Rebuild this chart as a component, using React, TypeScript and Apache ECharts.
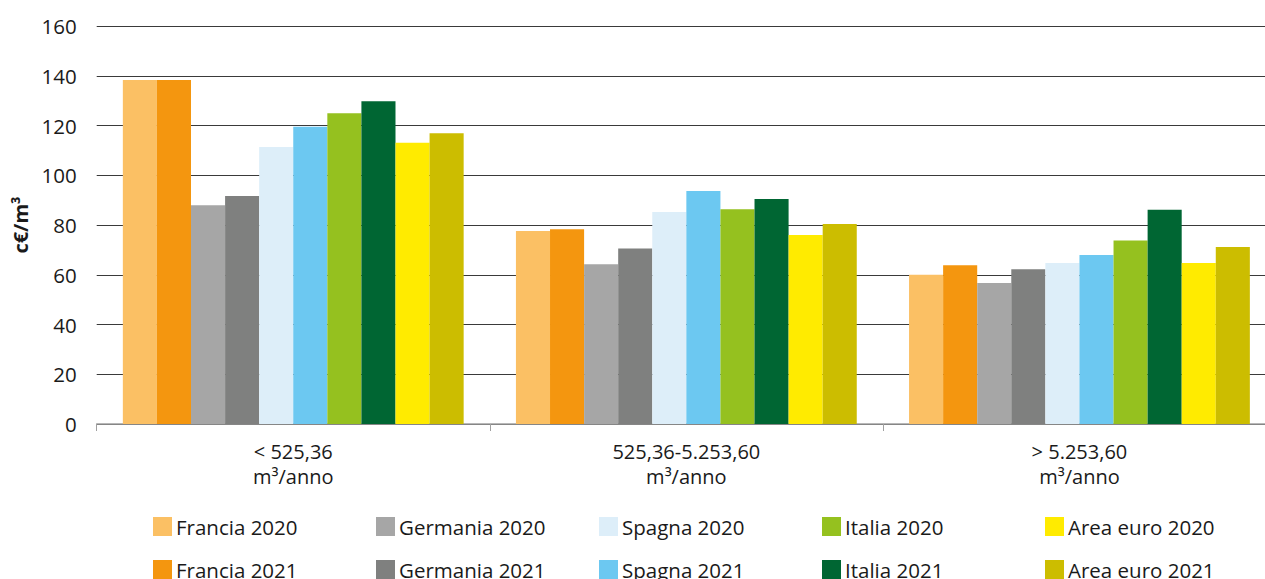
import React, { useEffect, useRef } from "react";
import * as echarts from "echarts";

const categories = ["< 525,36\nm³/anno", "525,36-5.253,60\nm³/anno", "> 5.253,60\nm³/anno"];
const yTicks = { min: 0, max: 160, interval: 20 };

const seriesNames = [
  "Francia 2020", "Francia 2021",
  "Germania 2020", "Germania 2021",
  "Spagna 2020", "Spagna 2021",
  "Italia 2020", "Italia 2021",
  "Area euro 2020", "Area euro 2021",
];
const seriesColors = [
  "#FBC064", "#F4960F",
  "#A6A6A6", "#7F807F",
  "#DDEEF9", "#6CC8F1",
  "#95C11F", "#006633",
  "#FFEB00", "#CCBD00",
];
const francia2020 = [138.3, 77.6, 60.0];
const francia2021 = [138.3, 78.3, 63.8];
const germania2020 = [87.9, 64.2, 56.7];
const germania2021 = [91.7, 70.6, 62.2];
const spagna2020 = [111.4, 85.2, 64.7];
const spagna2021 = [119.5, 93.7, 67.9];
const italia2020 = [124.9, 86.3, 73.8];
const italia2021 = [129.7, 90.5, 86.1];
const areaEuro2020 = [113.1, 76.0, 64.7];
const areaEuro2021 = [116.9, 80.4, 71.2];
const seriesValues = [
  francia2020, francia2021,
  germania2020, germania2021,
  spagna2020, spagna2021,
  italia2020, italia2021,
  areaEuro2020, areaEuro2021,
];

const FONT = "'Open Sans', 'DejaVu Sans', sans-serif";
const TEXT = "#1a1a1a";
const CHART_W = 1300;
const CHART_H = 640;

export default function App() {
  const ref = useRef<HTMLDivElement>(null);
  useEffect(() => {
    if (!ref.current) return;
    const chart = echarts.init(ref.current, undefined, { renderer: "svg" });
    const legendCols = [153, 376, 599, 822, 1045];
    const legends = legendCols.map((left, i) => ({
      left,
      top: 516,
      height: 100,
      orient: "vertical" as const,
      itemWidth: 19,
      itemHeight: 19,
      itemGap: 22,
      padding: 0,
      icon: "rect",
      data: [seriesNames[2 * i], seriesNames[2 * i + 1]],
      textStyle: { fontFamily: FONT, fontSize: 20.5, color: TEXT, lineHeight: 19, padding: [0, 0, 0, -1] },
    }));
    chart.setOption({
      animation: false,
      textStyle: { fontFamily: FONT },
      grid: { left: 96.7, right: CHART_W - 1276, top: 26, height: 398, containLabel: false },
      legend: legends,
      xAxis: {
        type: "category",
        data: categories,
        axisLine: { show: true, lineStyle: { color: "#a0a0a0", width: 1.5 } },
        axisTick: { show: true, length: 7, lineStyle: { color: "#a0a0a0" } },
        axisLabel: {
          fontFamily: FONT,
          fontSize: 20,
          color: TEXT,
          lineHeight: 25,
          margin: 15,
          interval: 0,
        },
      },
      yAxis: {
        type: "value",
        min: yTicks.min,
        max: yTicks.max,
        interval: yTicks.interval,
        name: "c€/m³",
        nameLocation: "middle",
        nameGap: 64,
        nameTextStyle: { fontFamily: FONT, fontSize: 20, fontWeight: "bold", color: TEXT },
        axisLine: { show: false },
        axisTick: { show: false },
        axisLabel: { fontFamily: FONT, fontSize: 20.5, color: TEXT, margin: 20 },
        splitLine: { show: true, lineStyle: { color: "#3a3a3a", width: 1.2 } },
      },
      series: seriesNames.map((name, i) => ({
        name,
        type: "bar",
        data: seriesValues[i],
        barGap: "0%",
        barCategoryGap: "13.3%",
        itemStyle: { color: seriesColors[i] },
        emphasis: { disabled: true },
      })),
    });
    return () => chart.dispose();
  }, []);
  return (
    <div style={{ position: "fixed", left: 0, top: 0, width: 1265, height: 579, overflow: "hidden", background: "#fff" }}>
      <div ref={ref} style={{ width: CHART_W, height: CHART_H }} />
    </div>
  );
}
